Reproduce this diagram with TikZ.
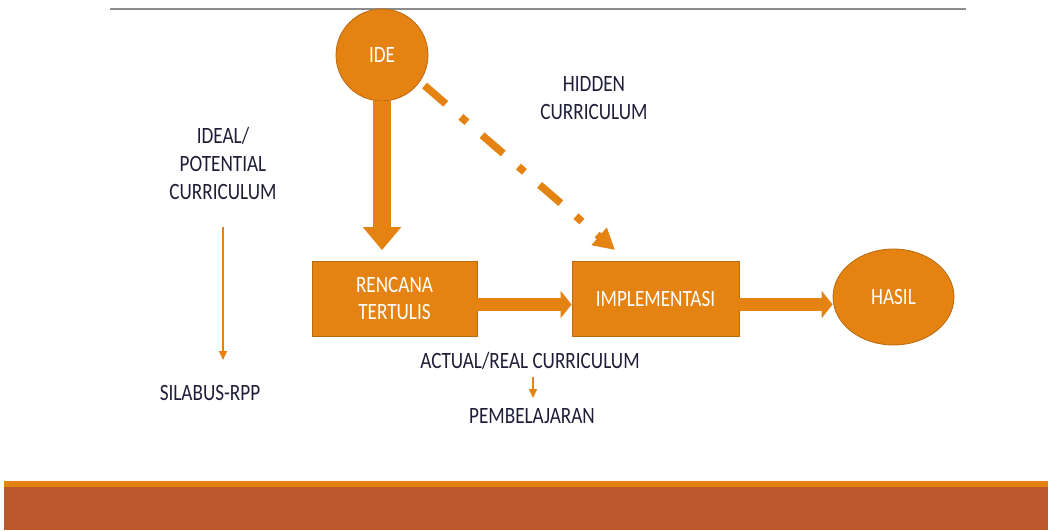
\documentclass[tikz,border=0pt]{standalone}
\usepackage{fontspec}
\setmainfont{Carlito}[FakeStretch=0.82]
\usetikzlibrary{arrows.meta,shapes.geometric}
\definecolor{orng}{HTML}{E48312}
\definecolor{orngdk}{HTML}{B9690F}
\definecolor{brwn}{HTML}{BD582C}
\definecolor{txt}{HTML}{1E1E38}
\definecolor{rule}{HTML}{8C8C8C}
\tikzset{
  lbl/.style={font=\fontsize{23.4}{28}\selectfont, text=txt, align=center, inner sep=0pt},
  shapebox/.style={fill=orng, draw=orngdk, line width=0.8pt, inner sep=0pt,
    font=\fontsize{23.4}{27}\selectfont, text=white, align=center},
  bigarrow/.style={draw=orng, line width=18pt, -{Triangle[length=23pt,width=37pt]}},
  medarrow/.style={draw=orng, line width=13pt, -{Triangle[length=11pt,width=27pt]}},
  thinarrow/.style={draw=orng, line width=2pt, -{Triangle[length=9pt,width=8pt]}},
  dasharrow/.style={draw=orng, line width=7.5pt, dash pattern=on 28pt off 20pt on 8pt off 20pt,
    -{Triangle[length=21pt,width=22pt]}}
}
\begin{document}
\begin{tikzpicture}[x=1pt,y=-1pt]
\useasboundingbox (0,0) rectangle (1048,530);
% top rule and bottom bar
\draw[rule, line width=1.6pt] (110,9) -- (966,9);
\fill[orng] (4,481) rectangle (1048,487);
\fill[brwn] (4,487) rectangle (1048,530);

% shapes
\node[shapebox, circle, minimum size=92pt] (ide) at (382,55) {IDE};
\node[shapebox, rectangle, minimum width=165pt, minimum height=75pt] (ren) at (394.5,298.5) {RENCANA\\TERTULIS};
\node[shapebox, rectangle, minimum width=167pt, minimum height=75pt] (imp) at (655.5,298.5) {IMPLEMENTASI};
\node[shapebox, ellipse, minimum width=121pt, minimum height=96pt] (hasil) at (893.5,297) {HASIL};

% labels
\node[lbl] (hidden) at (594,98.5) {HIDDEN\\CURRICULUM};
\node[lbl] (ideal) at (223,163) {IDEAL/\\POTENTIAL\\CURRICULUM};
\node[lbl] (silabus) at (210,392.5) {SILABUS-RPP};
\node[lbl] (actual) at (530,360.5) {ACTUAL/REAL CURRICULUM};
\node[lbl] (pemb) at (532,416) {PEMBELAJARAN};

% connectors
\coordinate (ideFoot) at (ide.south |- ren.north);
\draw[bigarrow, shorten >=10.5pt] (ide.south) -- (ideFoot);

\coordinate (a1s) at ([yshift=-6pt]ren.east);
\coordinate (a1e) at (a1s -| imp.west);
\draw[medarrow] (a1s) -- (a1e);

\coordinate (a2s) at ([yshift=-6pt]imp.east);
\coordinate (a2e) at (a2s -| hasil.west);
\draw[medarrow] (a2s) -- (a2e);

\coordinate (hcEnd) at (615,250);
\draw[dasharrow, shorten <=6pt] (ide.-35) -- (hcEnd);

\coordinate (idealA) at (223,227);
\coordinate (idealB) at (223,360);
\draw[thinarrow] (idealA) -- (idealB);

\coordinate (actA) at (533,377);
\coordinate (actB) at (533,398);
\draw[thinarrow] (actA) -- (actB);
\end{tikzpicture}
\end{document}
